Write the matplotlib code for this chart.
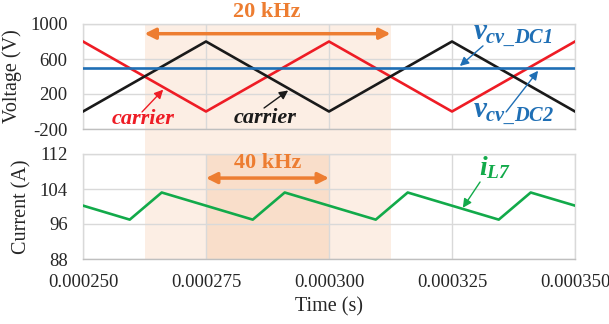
import matplotlib
matplotlib.use("Agg")
import matplotlib.pyplot as plt
from matplotlib.patches import Rectangle
from matplotlib.transforms import blended_transform_factory
from matplotlib.ticker import FixedLocator

# ---- data ----
t_carrier = [0.000250, 0.000275, 0.000300, 0.000325, 0.000350]
carrier_red = [800, 0, 800, 0, 800]
carrier_black = [0, 800, 0, 800, 0]
t_dc = [0.000250, 0.000350]
v_cv_dc = [500, 500]

t_current = [0.000250, 0.0002595, 0.000266, 0.0002845, 0.000291,
             0.0003095, 0.000316, 0.0003345, 0.000341, 0.000350]
i_l7 = [100.2, 97.0, 103.2, 97.0, 103.2, 97.0, 103.2, 97.0, 103.2, 100.2]

x_ticks = [0.000250, 0.000275, 0.000300, 0.000325, 0.000350]
x_ticklabels = ["0.000250", "0.000275", "0.000300", "0.000325", "0.000350"]
v_ticks = [-200, 200, 600, 1000]
i_ticks = [88, 96, 104, 112]

span_20k = (0.0002625, 0.0003125)
span_40k = (0.000275, 0.000300)

# ---- style ----
plt.rcParams['font.family'] = ['Liberation Serif', 'DejaVu Serif']
plt.rcParams['axes.unicode_minus'] = False
plt.rcParams['mathtext.fontset'] = 'custom'
plt.rcParams['mathtext.it'] = 'Liberation Serif:italic:bold'
plt.rcParams['mathtext.rm'] = 'Liberation Serif:italic:bold'
plt.rcParams['mathtext.bf'] = 'Liberation Serif:italic:bold'

RED = '#EE1C25'
BLACK = '#1A1A1A'
BLUE = '#1F6FB5'
GREEN = '#12AA4A'
ORANGE = '#ED7D31'
GRID = '#D9D9D9'
TXT = '#262626'

fig = plt.figure(figsize=(6.09, 3.24), dpi=100)
W, H = 609, 324
ax1 = fig.add_axes([83 / W, 1 - 129 / H, 492 / W, 105 / H])
ax2 = fig.add_axes([83 / W, 1 - 259 / H, 492 / W, 105 / H])

for ax in (ax1, ax2):
    ax.set_facecolor('none')
    ax.set_xlim(x_ticks[0], x_ticks[-1])
    ax.xaxis.set_major_locator(FixedLocator(x_ticks))
    ax.grid(True, color=GRID, lw=1.0)
    ax.set_axisbelow(True)
    for s in ax.spines.values():
        s.set_color(GRID)
        s.set_linewidth(1.0)
    ax.spines['bottom'].set_color('#BFBFBF')
    ax.tick_params(length=0, labelsize=13.5, colors=TXT, pad=11)

# light shading across both panels (20 kHz period)
trans = blended_transform_factory(ax2.transData, fig.transFigure)
y0 = 1 - 259 / H
y1 = 1 - 24 / H
fig.add_artist(Rectangle((span_20k[0], y0), span_20k[1] - span_20k[0], y1 - y0,
                         transform=trans, facecolor=ORANGE, alpha=0.13,
                         edgecolor='none', zorder=-1))

# ---- top panel ----
ax1.set_ylim(-200, 1000)
ax1.set_yticks(v_ticks)
ax1.set_xticklabels([])
ax1.plot(t_carrier, carrier_red, color=RED, lw=1.9, zorder=3)
ax1.plot(t_carrier, carrier_black, color=BLACK, lw=1.9, zorder=3)
ax1.plot(t_dc, v_cv_dc, color=BLUE, lw=1.9, zorder=4)
ax1.set_ylabel("Voltage (V)", fontsize=14.5, color=TXT, labelpad=6)

ax1.annotate('', xy=(span_20k[1], 889), xytext=(span_20k[0], 889),
             arrowprops=dict(arrowstyle='<|-|>', color=ORANGE, lw=2.5,
                             mutation_scale=16, shrinkA=0, shrinkB=0),
             annotation_clip=False, zorder=5)
ax1.text(0.0002873, 1135, "20 kHz", color=ORANGE, fontsize=16,
         fontweight='bold', ha='center', va='center', clip_on=False)

arrow_kw = dict(arrowstyle='-|>', lw=1.0, mutation_scale=13, shrinkA=0, shrinkB=0)
ax1.annotate('', xy=(0.0002663, 250), xytext=(0.000262, -5),
             arrowprops=dict(color=RED, **arrow_kw), zorder=5)
ax1.text(0.0002622, -88, "carrier", color=RED, fontsize=16, fontweight='bold',
         fontstyle='italic', ha='center', va='center')
ax1.annotate('', xy=(0.0002917, 240), xytext=(0.0002868, 40),
             arrowprops=dict(color=BLACK, **arrow_kw), zorder=5)
ax1.text(0.000287, -78, "carrier", color=BLACK, fontsize=16, fontweight='bold',
         fontstyle='italic', ha='center', va='center')

ax1.text(0.0003293, 820, r"$v_{cv\_DC1}$", color=BLUE, fontsize=21,
         ha='left', va='baseline', clip_on=False)
ax1.annotate('', xy=(0.0003266, 520), xytext=(0.0003313, 750),
             arrowprops=dict(color=BLUE, **arrow_kw), zorder=5)
ax1.text(0.0003293, -74, r"$v_{cv\_DC2}$", color=BLUE, fontsize=21,
         ha='left', va='baseline', clip_on=False)
ax1.annotate('', xy=(0.0003425, 465), xytext=(0.000336, -5),
             arrowprops=dict(color=BLUE, **arrow_kw), zorder=5)

# ---- bottom panel ----
ax2.set_ylim(88, 112)
ax2.set_yticks(i_ticks)
ax2.set_xticklabels(x_ticklabels)
ax2.axvspan(span_40k[0], span_40k[1], color=ORANGE, alpha=0.14, lw=0, zorder=0.2)
ax2.plot(t_current, i_l7, color=GREEN, lw=1.9, zorder=3)
ax2.set_ylabel("Current (A)", fontsize=14.5, color=TXT, labelpad=6)
ax2.set_xlabel("Time (s)", fontsize=14.5, color=TXT, labelpad=4)

ax2.annotate('', xy=(span_40k[1], 106.5), xytext=(span_40k[0], 106.5),
             arrowprops=dict(arrowstyle='<|-|>', color=ORANGE, lw=2.5,
                             mutation_scale=16, shrinkA=0, shrinkB=0), zorder=5)
ax2.text(0.0002875, 109.9, "40 kHz", color=ORANGE, fontsize=16,
         fontweight='bold', ha='center', va='center')

ax2.text(0.0003305, 107.2, r"$i_{L7}$", color=GREEN, fontsize=20,
         ha='left', va='baseline')
ax2.annotate('', xy=(0.0003272, 99.7), xytext=(0.0003307, 105.6),
             arrowprops=dict(color=GREEN, **arrow_kw), zorder=5)

fig.savefig("out.png", dpi=100)
